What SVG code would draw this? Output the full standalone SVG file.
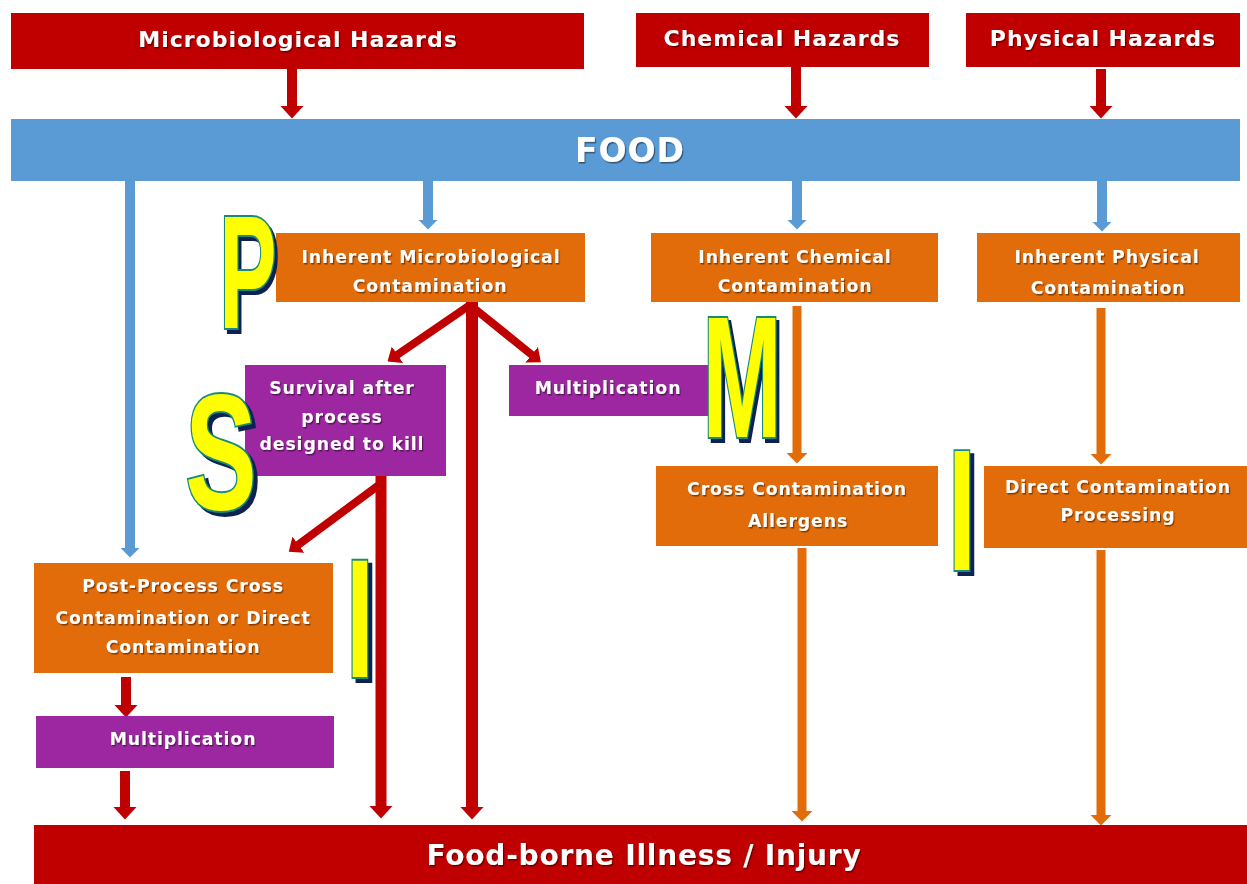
<svg xmlns="http://www.w3.org/2000/svg" width="1247" height="884" viewBox="0 0 1247 884">
  <style>
    .red { fill: #C00000; }
    .blue { fill: #5B9BD5; }
    .orange { fill: #E36C0A; }
    .purple { fill: #9C27A0; }
    .lbl { font-family: "DejaVu Sans", "Liberation Sans", sans-serif; font-weight: bold; fill: #FFFFFF; text-anchor: middle; filter: url(#txtShadow); }
    .s16 { font-size: 17.3px; letter-spacing: 0.9px; }
    .s21 { font-size: 22px; letter-spacing: 1px; }
    .big { font-family: "Liberation Sans", Arial, sans-serif; font-weight: bold; font-size: 100px; text-anchor: middle; fill: #FFFF00; stroke: #1A8A7A; stroke-width: 3.2; paint-order: stroke; vector-effect: non-scaling-stroke; filter: url(#letterShade); }
    .cRed { stroke: #C00000; fill: none; }
    .cBlue { stroke: #5B9BD5; fill: none; stroke-width: 10; }
    .cOrange { stroke: #E36C0A; fill: none; stroke-width: 9; }
  </style>
  <defs>
    <filter id="txtShadow" x="-5%" y="-20%" width="110%" height="150%">
      <feDropShadow dx="1.2" dy="1.5" stdDeviation="0.7" flood-color="#000000" flood-opacity="0.45"/>
    </filter>
    <!-- solid navy offset copy behind the control letters -->
    <filter id="letterShade" x="-30%" y="-20%" width="160%" height="140%">
      <feFlood flood-color="#0E2452" result="navy"/>
      <feComposite in="navy" in2="SourceAlpha" operator="in" result="solid"/>
      <feOffset in="solid" dx="3.5" dy="2.5" result="moved"/>
      <feMerge>
        <feMergeNode in="moved"/>
        <feMergeNode in="SourceGraphic"/>
      </feMerge>
    </filter>
    <marker id="headRed" viewBox="0 0 13 24" refX="0.5" refY="12" markerWidth="13" markerHeight="24" markerUnits="userSpaceOnUse" orient="auto">
      <path d="M0,0 L13,12 L0,24 z" fill="#C00000"/>
    </marker>
    <marker id="headRedS" viewBox="0 0 12 20" refX="0.5" refY="10" markerWidth="12" markerHeight="20" markerUnits="userSpaceOnUse" orient="auto">
      <path d="M0,0 L12,10 L0,20 z" fill="#C00000"/>
    </marker>
    <marker id="headBlue" viewBox="0 0 10 20" refX="0.5" refY="10" markerWidth="10" markerHeight="20" markerUnits="userSpaceOnUse" orient="auto">
      <path d="M0,0 L10,10 L0,20 z" fill="#5B9BD5"/>
    </marker>
    <marker id="headOrange" viewBox="0 0 11 22" refX="0.5" refY="11" markerWidth="11" markerHeight="22" markerUnits="userSpaceOnUse" orient="auto">
      <path d="M0,0 L11,11 L0,22 z" fill="#E36C0A"/>
    </marker>
  </defs>

  <rect x="0" y="0" width="1247" height="884" fill="#FFFFFF"/>

  <!-- connectors -->
  <g id="connectors">
    <!-- hazards into food -->
    <line class="cRed" stroke-width="10" x1="292" y1="69" x2="292" y2="106" marker-end="url(#headRed)"/>
    <line class="cRed" stroke-width="10" x1="796" y1="67" x2="796" y2="106" marker-end="url(#headRed)"/>
    <line class="cRed" stroke-width="10" x1="1101" y1="69" x2="1101" y2="106" marker-end="url(#headRed)"/>
    <!-- food into inherent contamination -->
    <line class="cBlue" x1="130" y1="181" x2="130" y2="548" marker-end="url(#headBlue)"/>
    <line class="cBlue" x1="428" y1="181" x2="428" y2="220" marker-end="url(#headBlue)"/>
    <line class="cBlue" x1="797" y1="181" x2="797" y2="220" marker-end="url(#headBlue)"/>
    <line class="cBlue" x1="1102" y1="181" x2="1102" y2="222" marker-end="url(#headBlue)"/>
    <!-- microbiological branch -->
    <line class="cRed" stroke-width="12" x1="472" y1="300" x2="472" y2="807" marker-end="url(#headRed)"/>
    <line class="cRed" stroke-width="8" x1="470" y1="305" x2="397" y2="355" marker-end="url(#headRedS)"/>
    <line class="cRed" stroke-width="8" x1="470" y1="305" x2="532" y2="355" marker-end="url(#headRedS)"/>
    <line class="cRed" stroke-width="11" x1="381" y1="476" x2="381" y2="806" marker-end="url(#headRed)"/>
    <line class="cRed" stroke-width="8" x1="383" y1="482" x2="298" y2="545" marker-end="url(#headRedS)"/>
    <line class="cRed" stroke-width="10" x1="126" y1="677" x2="126" y2="705" marker-end="url(#headRed)"/>
    <line class="cRed" stroke-width="10" x1="125" y1="771" x2="125" y2="807" marker-end="url(#headRed)"/>
    <!-- chemical and physical branches -->
    <line class="cOrange" x1="797" y1="306" x2="797" y2="453" marker-end="url(#headOrange)"/>
    <line class="cOrange" x1="1101" y1="308" x2="1101" y2="454" marker-end="url(#headOrange)"/>
    <line class="cOrange" x1="802" y1="548" x2="802" y2="811" marker-end="url(#headOrange)"/>
    <line class="cOrange" x1="1101" y1="550" x2="1101" y2="815" marker-end="url(#headOrange)"/>
  </g>

  <!-- hazard sources -->
  <g id="micro-hazards">
    <rect class="red" x="11" y="13" width="573" height="56"/>
    <text class="lbl s21" x="298" y="47">Microbiological Hazards</text>
  </g>
  <g id="chem-hazards">
    <rect class="red" x="636" y="13" width="293" height="54"/>
    <text class="lbl s21" x="782" y="46">Chemical Hazards</text>
  </g>
  <g id="phys-hazards">
    <rect class="red" x="966" y="13" width="274" height="54"/>
    <text class="lbl s21" x="1103" y="46">Physical Hazards</text>
  </g>

  <g id="food">
    <rect class="blue" x="11" y="119" width="1229" height="62"/>
    <text class="lbl" x="630" y="162" style="font-size:33px; letter-spacing:1px">FOOD</text>
  </g>

  <!-- contamination routes -->
  <g id="inherent-micro">
    <rect class="orange" x="276" y="233" width="309" height="69"/>
    <text class="lbl s16" x="431" y="263">Inherent Microbiological</text>
    <text class="lbl s16" x="430" y="292">Contamination</text>
  </g>
  <g id="inherent-chem">
    <rect class="orange" x="651" y="233" width="287" height="69"/>
    <text class="lbl s16" x="795" y="263">Inherent Chemical</text>
    <text class="lbl s16" x="795" y="292">Contamination</text>
  </g>
  <g id="inherent-phys">
    <rect class="orange" x="977" y="233" width="263" height="69"/>
    <text class="lbl s16" x="1107" y="263">Inherent Physical</text>
    <text class="lbl s16" x="1108" y="294">Contamination</text>
  </g>
  <g id="survival">
    <rect class="purple" x="245" y="365" width="201" height="111"/>
    <text class="lbl s16" x="342" y="394">Survival after</text>
    <text class="lbl s16" x="342" y="423">process</text>
    <text class="lbl s16" x="342" y="450">designed to kill</text>
  </g>
  <g id="multiplication-1">
    <rect class="purple" x="509" y="365" width="211" height="51"/>
    <text class="lbl s16" x="608" y="394">Multiplication</text>
  </g>
  <g id="cross-contamination">
    <rect class="orange" x="656" y="466" width="282" height="80"/>
    <text class="lbl s16" x="797" y="495">Cross Contamination</text>
    <text class="lbl s16" x="798" y="527">Allergens</text>
  </g>
  <g id="direct-contamination">
    <rect class="orange" x="984" y="466" width="263" height="82"/>
    <text class="lbl s16" x="1118" y="493">Direct Contamination</text>
    <text class="lbl s16" x="1118" y="521">Processing</text>
  </g>
  <g id="post-process">
    <rect class="orange" x="34" y="563" width="299" height="110"/>
    <text class="lbl s16" x="183" y="592">Post-Process Cross</text>
    <text class="lbl s16" x="183" y="624">Contamination or Direct</text>
    <text class="lbl s16" x="183" y="653">Contamination</text>
  </g>
  <g id="multiplication-2">
    <rect class="purple" x="36" y="716" width="298" height="52"/>
    <text class="lbl s16" x="183" y="745">Multiplication</text>
  </g>

  <g id="illness">
    <rect class="red" x="34" y="825" width="1213" height="59"/>
    <text class="lbl" x="644" y="865" style="font-size:28px; letter-spacing:0.8px">Food-borne Illness / Injury</text>
  </g>

  <!-- PSMI control letters -->
  <g id="letter-P" transform="translate(248,328) scale(0.86,1.62)">
    <text class="big" x="0" y="0">P</text>
  </g>
  <g id="letter-S" transform="translate(221,509) scale(1.07,1.66)">
    <text class="big" x="0" y="0">S</text>
  </g>
  <g id="letter-M" transform="translate(742,437) scale(0.95,1.72)">
    <text class="big" x="0" y="0">M</text>
  </g>
  <g id="letter-I-1" transform="translate(360,677) scale(1.0,1.69)">
    <text class="big" x="0" y="0">I</text>
  </g>
  <g id="letter-I-2" transform="translate(962,570) scale(1.0,1.72)">
    <text class="big" x="0" y="0">I</text>
  </g>
</svg>
